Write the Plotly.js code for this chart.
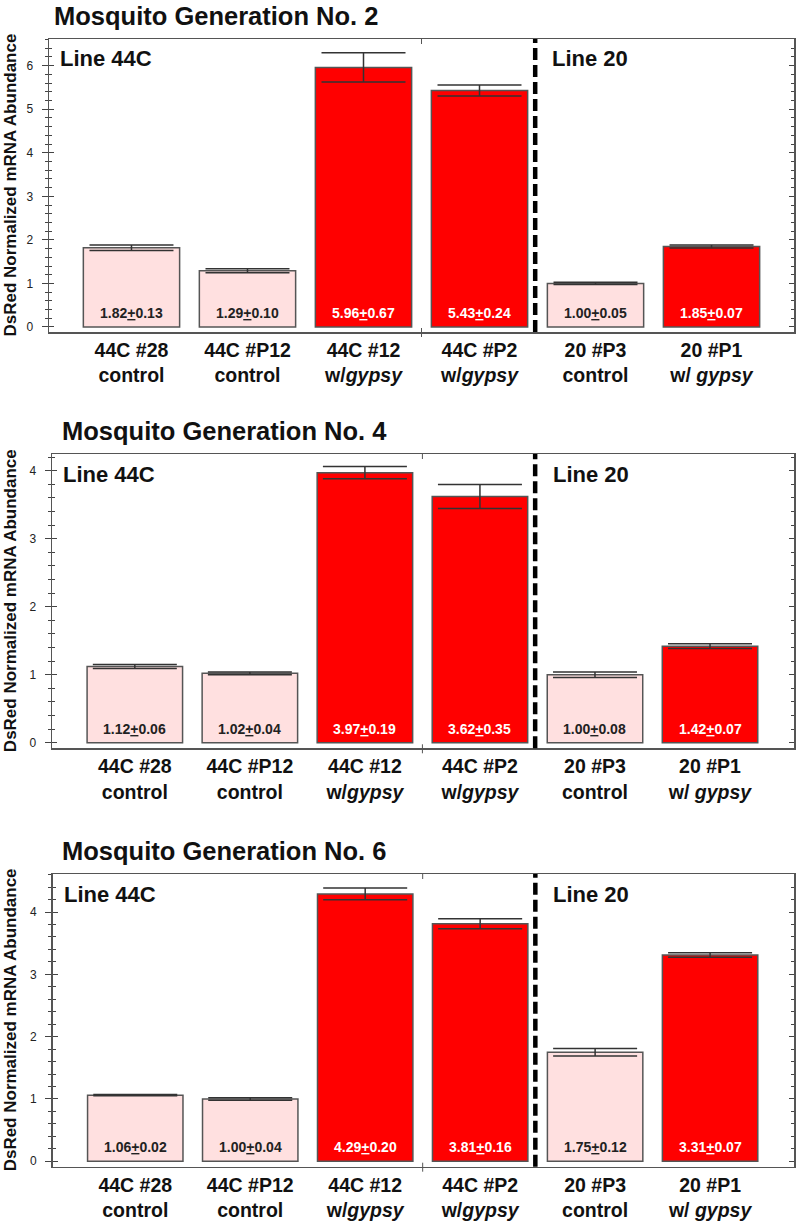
<!DOCTYPE html>
<html>
<head>
<meta charset="utf-8">
<script src="https://cdn.plot.ly/plotly-3.0.1.min.js"></script>
<style>html,body{margin:0;padding:0;background:#fff;}#chart{width:796px;height:1221px;}</style>
</head>
<body>
<div id="chart"></div>
<script>
// ---- data ----
const categories = ['44C #28<br>control', '44C #P12<br>control', '44C #12<br>w/<i>gypsy</i>',
                    '44C #P2<br>w/<i>gypsy</i>', '20 #P3<br>control', '20 #P1<br>w/ <i>gypsy</i>'];
const groupType = ['control', 'control', 'gypsy', 'gypsy', 'control', 'gypsy'];

const gen2Mean = [1.82, 1.29, 5.96, 5.43, 1.00, 1.85];
const gen2Sem  = [0.13, 0.10, 0.67, 0.24, 0.05, 0.07];
const gen2Drawn = [0.065, 0.045, 0.335, 0.125, 0.025, 0.035];

const gen4Mean = [1.12, 1.02, 3.97, 3.62, 1.00, 1.42];
const gen4Sem  = [0.06, 0.04, 0.19, 0.35, 0.08, 0.07];
const gen4Drawn = [0.03, 0.02, 0.09, 0.175, 0.04, 0.035];

const gen6Mean = [1.06, 1.00, 4.29, 3.81, 1.75, 3.31];
const gen6Sem  = [0.02, 0.04, 0.20, 0.16, 0.12, 0.07];
const gen6Drawn = [0.01, 0.02, 0.095, 0.08, 0.06, 0.035];

const panelTitles = ['Mosquito Generation No. 2', 'Mosquito Generation No. 4', 'Mosquito Generation No. 6'];
const yTitle = 'DsRed Normalized mRNA Abundance';
const lineLabels = ['Line 44C', 'Line 20'];

// ---- styling / layout ----
const FONT = 'Liberation Sans, Arial, Helvetica, sans-serif';
const W = 796, H = 1221;
const colorOf = {control: '#FFE0E0', gypsy: '#FF0000'};
const textColorOf = {control: '#222222', gypsy: '#FFFFFF'};

const panels = [
  {mean: gen2Mean, sem: gen2Sem, drawn: gen2Drawn, xpx: [49, 794], ypx: [39, 332], yrange: [-0.115, 6.613], xrange: [-0.711, 5.711], titleX: 52},
  {mean: gen4Mean, sem: gen4Sem, drawn: gen4Drawn, xpx: [52, 794], ypx: [454, 748.3], yrange: [-0.082, 4.245], xrange: [-0.72, 5.73], titleX: 60},
  {mean: gen6Mean, sem: gen6Sem, drawn: gen6Drawn, xpx: [52.5, 794], ypx: [874, 1166.7], yrange: [-0.087, 4.61], xrange: [-0.72, 5.73], titleX: 60}
];

const data = [];
const layout = {
  width: W, height: H,
  margin: {l: 0, r: 0, t: 0, b: 0},
  paper_bgcolor: '#fff', plot_bgcolor: '#fff',
  showlegend: false,
  font: {family: FONT, color: '#111'},
  annotations: [],
  shapes: []
};

panels.forEach((p, i) => {
  const n = i + 1;
  const xa = n === 1 ? 'x' : 'x' + n;
  const ya = n === 1 ? 'y' : 'y' + n;
  const xKey = n === 1 ? 'xaxis' : 'xaxis' + n;
  const yKey = n === 1 ? 'yaxis' : 'yaxis' + n;
  const ovKey = 'yaxis' + (n + 3);
  const xdom = [p.xpx[0] / W, p.xpx[1] / W];
  const ydom = [1 - p.ypx[1] / H, 1 - p.ypx[0] / H];

  data.push({
    type: 'bar',
    x: categories,
    y: p.mean,
    xaxis: xa, yaxis: ya,
    width: 0.83,
    marker: {color: groupType.map(g => colorOf[g]), line: {color: '#555', width: 1.5}},
    error_y: {type: 'data', array: p.drawn, visible: true, color: '#333', thickness: 1.5, width: 42},
    hoverinfo: 'skip'
  });

  layout[xKey] = {
    domain: xdom, anchor: ya, type: 'category', range: p.xrange,
    showline: true, mirror: true, linecolor: '#555', linewidth: 1.5,
    ticks: '', showgrid: false, zeroline: false,
    tickfont: {family: FONT, size: 19.5, color: '#111', weight: 'bold'},
    ticklabelstandoff: 0
  };
  layout[yKey] = {
    domain: ydom, anchor: xa, range: p.yrange,
    showline: true, mirror: true, linecolor: '#555', linewidth: 1.5,
    ticks: 'outside', ticklen: 6, tickwidth: 1, tickcolor: '#444',
    dtick: 1, tick0: 0,
    minor: {dtick: 0.2, tick0: 0, ticks: 'outside', ticklen: 3, tickcolor: '#444', tickwidth: 1},
    showgrid: false, zeroline: false,
    tickfont: {family: FONT, size: 12, color: '#222'},
    ticklabelstandoff: 6
  };
  layout[ovKey] = {
    overlaying: ya, anchor: xa, range: p.yrange,
    showline: false, mirror: 'allticks',
    ticks: 'inside', ticklen: 5, tickwidth: 1, tickcolor: '#444',
    dtick: 1, tick0: 0,
    minor: {dtick: 0.2, tick0: 0, ticks: 'inside', ticklen: 3, tickcolor: '#444', tickwidth: 1},
    showticklabels: false, showgrid: false, zeroline: false
  };
  // invisible trace to activate the overlay axis
  data.push({type: 'scatter', x: [categories[0]], y: [0], xaxis: xa, yaxis: 'y' + (n + 3),
             mode: 'markers', marker: {opacity: 0}, hoverinfo: 'skip'});

  // value labels inside bars
  p.mean.forEach((m, k) => {
    layout.annotations.push({
      xref: xa, yref: ya, x: k, y: 0, yanchor: 'bottom', yshift: 4,
      text: '<b>' + m.toFixed(2) + '<u>+</u>' + p.sem[k].toFixed(2) + '</b>',
      showarrow: false, font: {family: FONT, size: 14, color: textColorOf[groupType[k]]}
    });
  });

  // line labels
  layout.annotations.push({
    xref: xa + ' domain', yref: ya + ' domain', x: 0, y: 1, xanchor: 'left', yanchor: 'middle',
    xshift: 9, yshift: -20, text: '<b>' + lineLabels[0] + '</b>', showarrow: false,
    font: {family: FONT, size: 22, color: '#111'}
  });
  layout.annotations.push({
    xref: xa + ' domain', yref: ya + ' domain', x: 0.672, y: 1, xanchor: 'left', yanchor: 'middle',
    yshift: -20, text: '<b>' + lineLabels[1] + '</b>', showarrow: false,
    font: {family: FONT, size: 22, color: '#111'}
  });

  // panel title
  layout.annotations.push({
    xref: 'paper', yref: 'paper', x: p.titleX / W, y: 1 - (p.ypx[0] - 23) / H,
    xanchor: 'left', yanchor: 'middle', text: '<b>' + panelTitles[i] + '</b>', showarrow: false,
    font: {family: FONT, size: 25.5, color: '#111'}
  });

  // y-axis title
  layout.annotations.push({
    xref: 'paper', yref: 'paper', x: 10 / W, y: (ydom[0] + ydom[1]) / 2,
    xanchor: 'center', yanchor: 'middle', textangle: -90, text: yTitle, showarrow: false,
    font: {family: FONT, size: 17, color: '#111', weight: 'bold'}
  });

  // dashed separator between line groups
  layout.shapes.push({
    type: 'line', xref: xa, yref: ya + ' domain', x0: 3.48, x1: 3.48, y0: 0, y1: 1,
    line: {color: '#000', width: 4.5, dash: '12px,5px'}
  });
  // small x ticks at the centre
  layout.shapes.push({
    type: 'line', xref: xa, yref: ya + ' domain', ysizemode: 'pixel', yanchor: 0,
    x0: 2.5, x1: 2.5, y0: -5, y1: 4, line: {color: '#555', width: 1}
  });
  layout.shapes.push({
    type: 'line', xref: xa, yref: ya + ' domain', ysizemode: 'pixel', yanchor: 1,
    x0: 2.5, x1: 2.5, y0: 0, y1: -5, line: {color: '#555', width: 1}
  });
});

Plotly.newPlot('chart', data, layout, {staticPlot: true, displayModeBar: false});
</script>
</body>
</html>
